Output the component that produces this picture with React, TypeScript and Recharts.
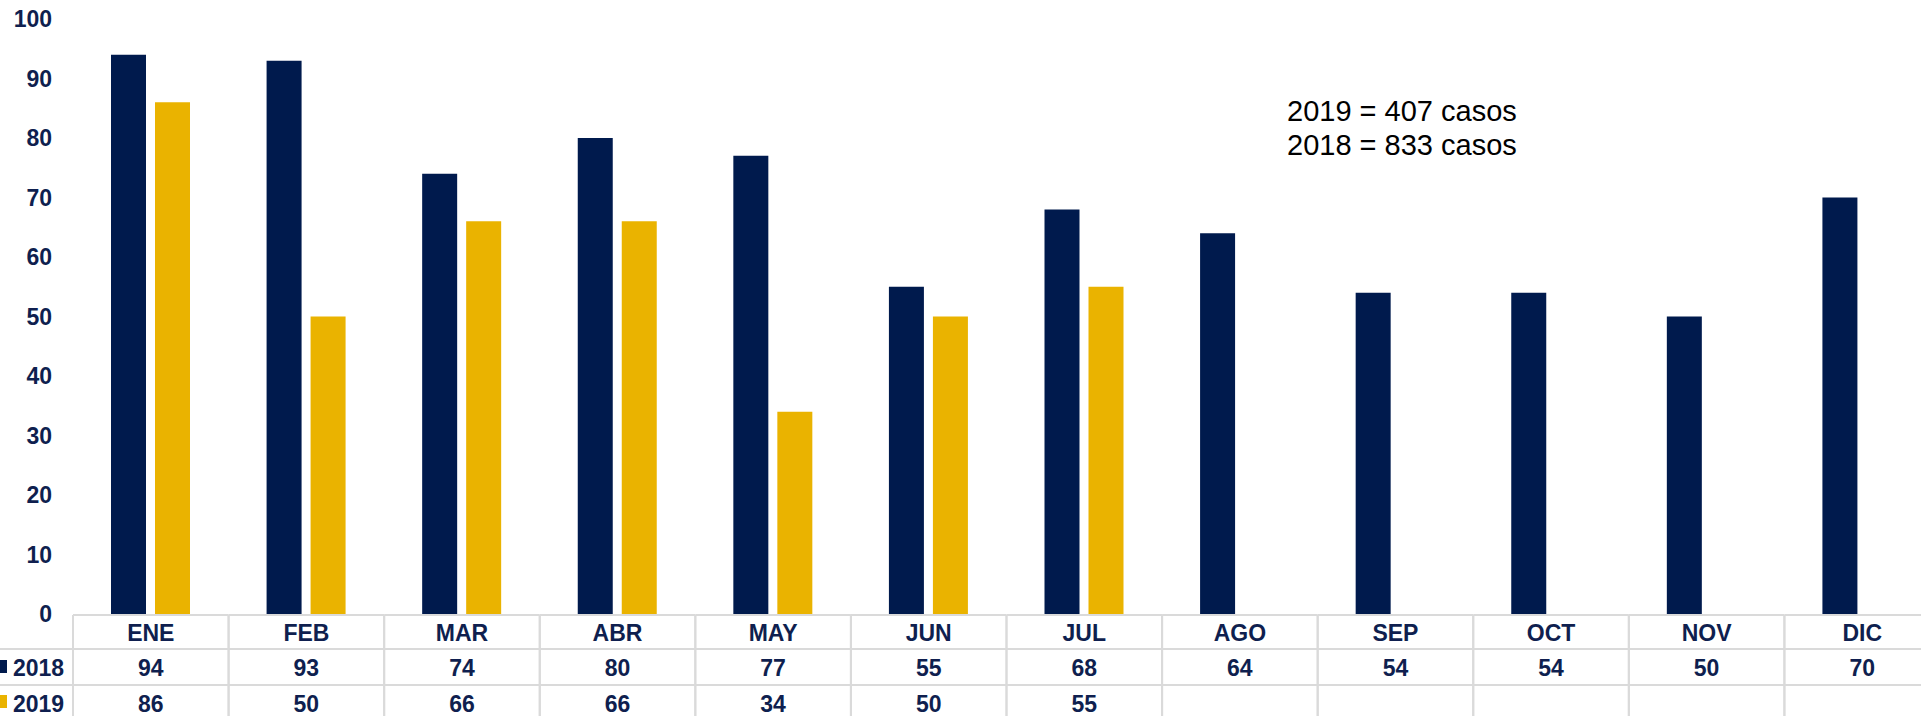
import React from "react";
import { BarChart, Bar, XAxis, YAxis } from "recharts";

// data
const months = ["ENE", "FEB", "MAR", "ABR", "MAY", "JUN", "JUL", "AGO", "SEP", "OCT", "NOV", "DIC"];
const cases2018 = [94, 93, 74, 80, 77, 55, 68, 64, 54, 54, 50, 70];
const cases2019: (number | null)[] = [86, 50, 66, 66, 34, 50, 55, null, null, null, null, null];
const yTicks = [0, 10, 20, 30, 40, 50, 60, 70, 80, 90, 100];
const notes = ["2019 = 407 casos", "2018 = 833 casos"];

const NAVY = "#001a4d";
const GOLD = "#eab300";
const TEXT = "#0f1f4f";
const GRID = "#dadada";
const FONT = "'Liberation Sans', Arial, sans-serif";

// layout
const CHART_W = 1950;
const CHART_H = 716;
const Y_AXIS_W = 73;
const MARGIN_RIGHT = 10;
const BAND = (CHART_W - Y_AXIS_W - MARGIN_RIGHT) / months.length;

const data = months.map((m, i) => ({
  month: m,
  y2018: cases2018[i],
  y2019: cases2019[i],
}));

// x axis tick draws one column of the data table below the plot
const TableTick = (props: any) => {
  const { x, y, payload } = props;
  const i = payload.index;
  const left = x - BAND / 2;
  const right = x + BAND / 2;
  const v18 = cases2018[i];
  const v19 = cases2019[i];
  const txt = { fill: TEXT, fontSize: 23, fontWeight: 700, textAnchor: "middle" as const };
  return (
    <g>
      <line x1={left} x2={right} y1={y + 1} y2={y + 1} stroke={GRID} strokeWidth={2} />
      <line x1={left} x2={right} y1={y + 35} y2={y + 35} stroke={GRID} strokeWidth={2} />
      <line x1={left} x2={right} y1={y + 71} y2={y + 71} stroke={GRID} strokeWidth={2} />
      <line x1={left} x2={left} y1={y + 1} y2={y + 110} stroke={GRID} strokeWidth={2} />
      <line x1={right} x2={right} y1={y + 1} y2={y + 110} stroke={GRID} strokeWidth={2} />
      <text x={x} y={y + 27} {...txt}>{payload.value}</text>
      {v18 != null && <text x={x} y={y + 62} {...txt}>{v18}</text>}
      {v19 != null && <text x={x} y={y + 98} {...txt}>{v19}</text>}
      {i === 0 && (
        <g>
          <line x1={0} x2={left} y1={y + 35} y2={y + 35} stroke={GRID} strokeWidth={2} />
          <line x1={0} x2={left} y1={y + 71} y2={y + 71} stroke={GRID} strokeWidth={2} />
          <rect x={-6} y={y + 46} width={13} height={13} fill={NAVY} />
          <text x={13} y={y + 62} fill={TEXT} fontSize={23} fontWeight={700}>2018</text>
          <rect x={-6} y={y + 81} width={13} height={13} fill={GOLD} />
          <text x={13} y={y + 98} fill={TEXT} fontSize={23} fontWeight={700}>2019</text>
        </g>
      )}
    </g>
  );
};

export default function App() {
  return (
    <div
      style={{
        position: "fixed",
        left: 0,
        top: 0,
        width: 1921,
        height: 716,
        overflow: "hidden",
        background: "#ffffff",
        fontFamily: FONT,
      }}
    >
      <BarChart
        width={CHART_W}
        height={CHART_H}
        data={data}
        margin={{ top: 19, right: MARGIN_RIGHT, left: 0, bottom: 0 }}
        barSize={35}
        barGap={9}
      >
        <XAxis
          dataKey="month"
          height={102}
          axisLine={false}
          tickLine={false}
          tickSize={0}
          tickMargin={0}
          interval={0}
          tick={<TableTick />}
        />
        <YAxis
          width={Y_AXIS_W}
          domain={[0, 100]}
          ticks={yTicks}
          axisLine={false}
          tickLine={false}
          tickSize={0}
          tickMargin={21}
          tick={{ fill: TEXT, fontSize: 23, fontWeight: 700 }}
        />
        <Bar dataKey="y2018" name="2018" fill={NAVY} isAnimationActive={false} />
        <Bar dataKey="y2019" name="2019" fill={GOLD} isAnimationActive={false} />
      </BarChart>
      <div
        style={{
          position: "absolute",
          left: 1287,
          top: 94,
          fontSize: 29,
          lineHeight: "34px",
          color: "#000000",
          whiteSpace: "nowrap",
        }}
      >
        {notes.map((n) => (
          <div key={n}>{n}</div>
        ))}
      </div>
    </div>
  );
}
